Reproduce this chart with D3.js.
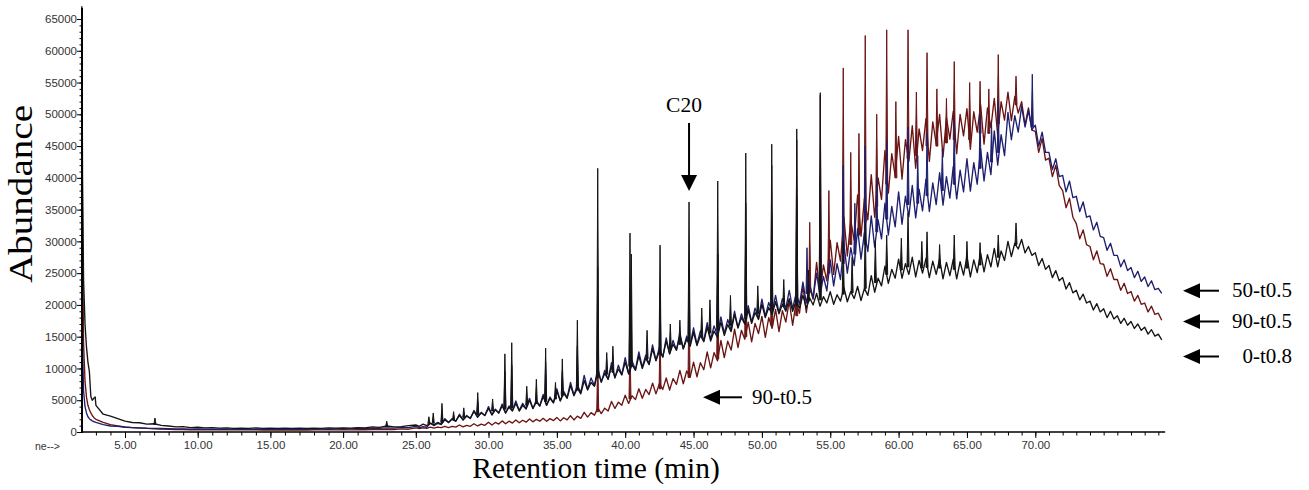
<!DOCTYPE html>
<html><head><meta charset="utf-8">
<script src="https://cdn.jsdelivr.net/npm/d3@7"></script>
<style>body{margin:0;background:#fff}svg{display:block}</style>
</head><body><svg id="c" width="1309" height="490"></svg>
<script>
// ---------- DATA ----------
const xMajorTicks = [5,10,15,20,25,30,35,40,45,50,55,60,65,70];
const xMinorTicks = d3.range(3, 79.5, 1);
const yMajorTicks = [0,5000,10000,15000,20000,25000,30000,35000,40000,45000,50000,55000,60000,65000];
const yMinorTicks = d3.range(0, 65001, 1000);

// solvent front (2.0 - 3.0 min)
const headTimes = [2.03,2.08,2.15,2.25,2.35,2.45,2.55,2.65,2.75,2.85,2.95];
const headBlack = [67000,40000,24000,17000,13400,11000,9500,5600,5000,5300,5500];
const headBlue  = [32000,14000,6500,4000,3000,2400,2100,1900,1750,1650,1550];
const headRed   = [56500,30000,14000,8000,5500,4200,3500,3000,2600,2300,2100];

// traces: every 0.5 min from 3.0 to 24.5, then every 0.25 min from 25.0 to 79.25
const gridTimes = d3.range(3, 24.51, 0.5).concat(d3.range(25, 79.26, 0.25));
const black0t08 = [
 4200,2800,2500,2100,1700,1500,1450,1250,1300,1050,
 950,800,850,700,750,650,700,600,650,580,
 620,560,640,580,600,560,620,570,600,560,
 620,580,640,600,660,620,700,650,800,720,
 950,800,850,1000,
 1100,900,1250,1000, 1350,1150,1500,1250, 1900,1500,2100,1700, 2600,1900,2500,2200,
 3200,2400,3000,2600, 3700,2700,3500,3000, 4100,3000,3900,3300, 4500,3300,4200,3600,
 5000,3700,4700,4100, 5600,4200,5300,4600, 6400,4900,6100,5300, 7300,5700,6900,6000,
 8100,6600,7800,7200, 9500,7900,9200,8300, 10300,8600,9900,9000, 11000,9100,10600,9700,
 12000,10000,11600,10600, 13100,11200,12700,11800, 14300,12300,13800,12900, 15100,13100,14600,13500,
 15700,13600,15200,14200, 16500,14300,15900,14900, 17300,15200,16900,15800, 18500,16400,18000,17000,
 19200,17100,18800,17700, 20100,18000,19600,18500, 20500,18600,20100,19000, 21000,19000,20600,19500,
 21500,19500,21100,20000, 21800,19800,21300,20300, 22100,20100,21600,20600, 22700,20500,22100,21000,
 22900,20700,22600,21500, 24600,22000,24200,23000, 26100,23400,25600,24200, 27200,24200,26500,24800,
 27500,24400,27000,25000, 27300,24300,26900,24800, 27200,24100,26700,24600, 27200,24100,26800,24700,
 27600,24400,27100,25100, 28200,25200,27900,26000, 28900,26000,28500,27000, 30000,27600,29700,28800,
 30300,28200,29200,27800, 28200,26200,27300,25600, 26200,24300,25400,23800, 24300,22500,23500,21900,
 22300,20800,21700,20300, 20600,19200,20200,18900, 19400,18000,19000,17800, 18300,17100,17900,16800,
 17400,16300,17000,16000, 16500,15400,16100,15100, 15400,14500];
const blue50t05 = [
 1500,1150,950,900,750,700,650,600,580,550,
 520,480,500,460,480,440,460,430,450,420,
 450,420,460,430,450,420,460,430,460,440,
 480,450,500,470,520,490,560,520,600,560,
 650,600,720,680,
 900,700,850,750, 1400,1000,1350,1150, 2100,1500,2000,1700, 2800,1900,2600,2100,
 3400,2300,3100,2600, 4000,2700,3600,3000, 4400,3000,4100,3400, 4900,3400,4500,3700,
 5300,3700,5000,4100, 5900,4200,5500,4600, 6800,4900,6400,5400, 7800,5800,7400,6200,
 8900,6700,8500,7300, 10100,7800,9700,8300, 10900,8500,10500,9000, 11700,9300,11200,9800,
 12600,10200,12100,10700, 13700,11300,13300,11800, 14800,12300,14400,12900, 15600,13100,15100,13700,
 16400,13800,15900,14400, 17200,14600,16700,15200, 18100,15500,17700,16100, 19000,16400,18600,17000,
 19900,17300,19500,17900, 20900,18200,20400,18800, 21500,18800,21000,19400, 22300,19400,21800,20100,
 23600,20300,23200,21100, 25000,21400,24500,22200, 27100,23000,26500,24000, 29600,25000,29000,26200,
 32000,27200,31400,28400, 34000,29100,33400,30400, 36000,31000,35500,32300, 37800,32700,37100,33900,
 38800,33700,38200,34800, 39800,34700,39200,35800, 40800,35700,40200,36800, 41800,36700,41200,37800,
 43000,37900,42400,39000, 44600,39500,44000,40500, 47400,42000,46800,43500, 50300,46000,49800,47200,
 51300,48000,50600,47600, 48300,45000,47200,44000, 44000,41300,43000,40200, 40400,37800,39500,36900,
 37100,34700,36200,33800, 34000,31800,33000,30800, 30600,28600,29700,27800, 27800,26000,27100,25400,
 25900,24300,25300,23700, 24400,22900,23800,22400, 22600,21800];
const red90t05 = [
 2000,1500,1150,950,800,700,620,560,500,460,
 420,380,400,360,380,350,370,340,360,330,
 360,330,350,320,350,320,340,320,350,320,
 350,330,360,330,370,340,380,350,400,370,
 420,390,480,440,
 650,540,640,580, 760,620,780,680, 900,700,880,760, 1100,800,1050,900,
 1300,950,1250,1050, 1550,1100,1500,1250, 1750,1300,1700,1400, 1900,1450,1850,1550,
 2050,1600,2000,1700, 2150,1700,2100,1800, 2300,1750,2250,1900, 2550,1900,2500,2150,
 3100,2350,3050,2650, 3800,2900,3750,3300, 4800,3700,4700,4200, 5800,4500,5700,5100,
 6800,5300,6700,5900, 7700,6000,7600,6700, 8500,6600,8400,7500, 9700,7600,9600,8600,
 11000,8700,10900,9800, 12600,10100,12500,11200, 14400,11700,14300,12900, 16200,13300,16000,14600,
 17300,14200,17100,15500, 18200,14900,18000,16300, 19300,15800,19100,17300, 20600,16800,20400,18700,
 23000,18800,22700,20900, 26700,21700,26300,23800, 30200,24800,29800,26900, 33800,27700,33300,30200,
 37300,30800,36800,33400, 40500,33800,40000,36600, 44300,37600,43800,40300, 46500,39800,46000,42600,
 48200,41500,47700,44300, 49300,42600,48800,45400, 50000,43300,49500,46100, 50500,43800,50000,46600,
 50900,44500,50400,47200, 51500,45300,51000,47900, 52500,46700,52000,49100, 53500,49000,52800,50200,
 52000,48300,51000,47500, 47300,44000,46200,42800, 43100,40200,42000,38800, 38000,35300,36800,33800,
 32800,30400,31800,29500, 29200,27100,28500,26500, 26400,24500,25700,24000, 24000,22300,23400,21800,
 22100,20600,21500,20100, 20300,18900,19800,18500, 18700,17600];

// peaks: [retention time, foot abundance, apex abundance]
const peaksBlack = [
 [7.06,1200,2200],[23.0,900,1700],[25.9,1300,2400],[26.2,1400,3000],[26.8,1500,4500],
 [27.6,1900,3200],[28.3,2300,3800],[29.26,2800,6200],[30.3,3300,5200],[31.2,3600,12300],
 [31.7,3800,14050],[32.8,4200,7200],[33.5,4500,8300],[34.18,4800,13200],[34.9,5200,7800],
 [35.4,5700,11500],[36.5,6600,17600],[37.99,8600,41500],[38.65,9100,12500],[39.1,9400,13500],
 [40.35,10300,31300],[40.45,10300,28000],[41.6,11500,16000],[42.55,12300,29400],[43.3,13000,17000],
 [44.0,13800,17600],[44.67,14300,36200],[45.6,15000,19500],[46.2,15600,20800],[46.77,16000,39500],
 [47.7,16800,21500],[48.82,17800,43900],[49.7,18600,23000],[50.72,19300,45300],[51.6,19700,24000],
 [52.55,20000,47700],[53.4,20600,25500],[54.27,20800,53400],[55.95,21700,30000],[56.6,21900,27500],
 [57.56,22600,33000],[58.3,23500,30000],[59.13,24800,31000],[60.2,25500,30500],[60.69,26000,34500],
 [61.7,25800,30000],[62.08,25900,31500],[63.0,25800,29500],[64.07,25600,31000],[65.0,25800,30000],
 [65.96,26300,29800],[67.29,27500,31000],[68.59,29500,32900]];
const peaksBlue = [
 [26.8,1500,3000],[29.26,2800,4800],[31.2,3700,9500],[31.7,3900,10500],[34.18,5000,11000],
 [35.4,6000,9500],[36.5,7000,13500],[37.99,8800,26000],[40.35,10400,20000],[42.55,12500,22000],
 [44.67,14300,26000],[46.77,16600,28000],[48.82,18400,31000],[50.72,19700,34000],[52.55,20600,37000],
 [53.3,21800,29000],[54.27,23000,40000],[55.95,26500,42000],[56.8,28000,36000],[57.56,29500,45000],
 [58.4,31500,40000],[59.13,33500,46000],[60.69,35800,48000],[61.4,36000,43500],[62.08,37200,47000],
 [63.2,38000,44500],[64.07,39000,49000],[65.96,41500,50000],[66.8,42500,48500],[67.29,44000,52000],
 [69.78,48000,56300]];
const peaksRed = [
 [37.99,3200,12000],[40.35,5200,14000],[42.55,6800,16000],[44.67,8600,22000],[46.77,11500,28000],
 [48.82,15000,36000],[50.72,16800,42000],[52.55,18300,46000],[53.5,22000,33000],[54.27,24500,53000],
 [54.9,25000,38000],[55.95,28000,57300],[56.5,29500,44000],[57.1,31000,47000],[57.56,33000,62400],
 [58.4,35500,50000],[59.13,39000,63300],[59.8,40000,52000],[60.69,43000,63300],[61.3,43500,53500],
 [62.08,45000,59700],[62.8,45000,54000],[63.5,45500,52500],[64.07,46000,58300],[65.2,46000,55000],
 [65.96,47000,55200],[66.6,47000,54000],[67.29,48500,59400],[68.59,51500,56000]];

const seriesNames = ["90-t0.5","50-t0.5","0-t0.8"];
const seriesColors = ["#6b1414","#1e1f6e","#141414"];

// ---------- CHART ----------
const svg = d3.select("#c");
const x = d3.scaleLinear().domain([5,30,70]).range([125,488.5,1035.3]);
const y = d3.scaleLinear().domain([0,65000]).range([432,19]);

[black0t08, blue50t05, red90t05].forEach((a,i)=>{
  if (a.length !== gridTimes.length) console.error("length mismatch", i, a.length, gridTimes.length);
});
function pts(head, grid){
  return headTimes.map((t,i)=>[t,head[i]]).concat(gridTimes.map((t,i)=>[t,grid[i]]));
}
const series = [
  {name:seriesNames[0], color:seriesColors[0], data:pts(headRed,red90t05), peaks:peaksRed},
  {name:seriesNames[1], color:seriesColors[1], data:pts(headBlue,blue50t05), peaks:peaksBlue},
  {name:seriesNames[2], color:seriesColors[2], data:pts(headBlack,black0t08), peaks:peaksBlack}
];
const line = d3.line().defined(d=>d[1]!=null).x(d=>x(d[0])).y(d=>y(d[1]));
const g = svg.append("g");
series.forEach(s=>{
  g.append("path").attr("d", line(s.data)).attr("fill","none")
   .attr("stroke", s.color).attr("stroke-width",1.35).attr("stroke-linejoin","round");
  g.selectAll(null).data(s.peaks).enter().append("path")
   .attr("d", p=>{const px=x(p[0]);return `M${px-1},${y(p[1])}L${px},${y(p[2])}L${px+1},${y(p[1])}Z`;})
   .attr("fill", s.color).attr("stroke", s.color).attr("stroke-width",1);
});

// axes
const fontTick = "'Liberation Sans', Arial, sans-serif";
const yAxisG = svg.append("g").attr("transform","translate(82,0)");
yAxisG.call(d3.axisLeft(y).tickValues(yMinorTicks).tickSize(2.5).tickFormat(""));
yAxisG.call(g2=>g2.select(".domain").remove());
const yMaj = svg.append("g").attr("transform","translate(82,0)")
  .call(d3.axisLeft(y).tickValues(yMajorTicks).tickSize(5).tickPadding(0).tickFormat(d3.format("d")));
yMaj.select(".domain").remove();
yMaj.selectAll("text").attr("font-family",fontTick).attr("font-size","11.5px").attr("fill","#333");
svg.append("line").attr("x1",82).attr("x2",82).attr("y1",8).attr("y2",y(0)+1)
  .attr("stroke","#000").attr("stroke-width",2);

const xMin = svg.append("g").attr("transform",`translate(0,${y(0)})`)
  .call(d3.axisBottom(x).tickValues(xMinorTicks).tickSize(3.5).tickFormat(""));
xMin.select(".domain").remove();
const xMaj = svg.append("g").attr("transform",`translate(0,${y(0)})`)
  .call(d3.axisBottom(x).tickValues(xMajorTicks).tickSize(6).tickPadding(3).tickFormat(d3.format(".2f")));
xMaj.select(".domain").remove();
xMaj.selectAll("text").attr("font-family",fontTick).attr("font-size","11.5px").attr("fill","#333");
svg.append("line").attr("x1",81).attr("x2",x(79.5)).attr("y1",y(0)).attr("y2",y(0))
  .attr("stroke","#000").attr("stroke-width",1.5);
svg.append("text").attr("x",35).attr("y",450).text("ne-->")
  .attr("font-family",fontTick).attr("font-size","10.5px").attr("fill","#333");

// axis titles
const serif = "'Liberation Serif','Times New Roman',serif";
svg.append("text").attr("x",596).attr("y",478).attr("text-anchor","middle")
  .attr("font-family",serif).attr("font-size","29.5px").attr("fill","#000").text("Retention time (min)");
svg.append("text").attr("transform","translate(32,194) rotate(-90)").attr("text-anchor","middle")
  .attr("font-family",serif).attr("font-size","34px").attr("fill","#000")
  .attr("textLength",178).attr("lengthAdjust","spacingAndGlyphs").text("Abundance");

// annotations
function arrowDown(cx, y1, tip){
  svg.append("line").attr("x1",cx).attr("x2",cx).attr("y1",y1).attr("y2",tip-12)
    .attr("stroke","#000").attr("stroke-width",2);
  svg.append("path").attr("d",`M${cx-8},${tip-16}L${cx+8},${tip-16}L${cx},${tip}Z`).attr("fill","#000");
}
function arrowLeft(tip, x2, cy){
  svg.append("line").attr("x1",tip+12).attr("x2",x2).attr("y1",cy).attr("y2",cy)
    .attr("stroke","#000").attr("stroke-width",2);
  svg.append("path").attr("d",`M${tip},${cy}L${tip+17},${cy-7.5}L${tip+17},${cy+7.5}Z`).attr("fill","#000");
}
const c20 = x(44.67);
svg.append("text").attr("x",c20-5).attr("y",111.5).attr("text-anchor","middle")
  .attr("font-family",serif).attr("font-size","21.5px").text("C20");
arrowDown(c20, 123, 191);

const labs = [
  {t:"50-t0.5", cy:290.7},
  {t:"90-t0.5", cy:321.5},
  {t:"0-t0.8", cy:356.5}
];
labs.forEach(l=>{
  arrowLeft(1183, 1219, l.cy);
  svg.append("text").attr("x",1292).attr("y",l.cy+6.5).attr("text-anchor","end")
    .attr("font-family",serif).attr("font-size","21px").text(l.t);
});
arrowLeft(703, 742, 397.3);
svg.append("text").attr("x",752).attr("y",404.3)
  .attr("font-family",serif).attr("font-size","21px").text("90-t0.5");
</script>
</body></html>
